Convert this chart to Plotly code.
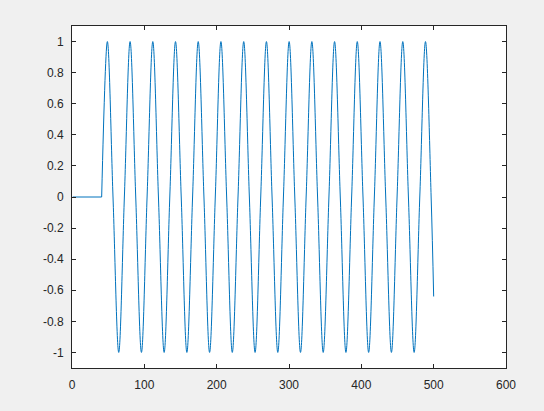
import plotly.graph_objects as go

# Flat (zero) part of the signal before it starts oscillating
flat_x = [1, 41]
flat_y = [0, 0]

# Key points of the oscillation (zero crossings, peaks, troughs)
wave_x = [41.0, 48.9, 56.7, 64.6, 72.4, 80.3, 88.1, 96.0, 103.8, 111.7,
          119.5, 127.4, 135.2, 143.1, 151.0, 158.8, 166.7, 174.5, 182.4, 190.2,
          198.1, 205.9, 213.8, 221.6, 229.5, 237.4, 245.2, 253.1, 260.9, 268.8,
          276.6, 284.5, 292.3, 300.2, 308.0, 315.9, 323.7, 331.6, 339.5, 347.3,
          355.2, 363.0, 370.9, 378.7, 386.6, 394.4, 402.3, 410.1, 418.0, 425.8,
          433.7, 441.6, 449.4, 457.3, 465.1, 473.0, 480.8, 488.7, 496.5, 500.0]
wave_y = [0, 1, 0, -1, 0, 1, 0, -1, 0, 1,
          0, -1, 0, 1, 0, -1, 0, 1, 0, -1,
          0, 1, 0, -1, 0, 1, 0, -1, 0, 1,
          0, -1, 0, 1, 0, -1, 0, 1, 0, -1,
          0, 1, 0, -1, 0, 1, 0, -1, 0, 1,
          0, -1, 0, 1, 0, -1, 0, 1, 0, -0.64]

x_ticks = [0, 100, 200, 300, 400, 500, 600]
y_ticks = [1, 0.8, 0.6, 0.4, 0.2, 0, -0.2, -0.4, -0.6, -0.8, -1]
y_tick_labels = ["1", "0.8", "0.6", "0.4", "0.2", "0", "-0.2", "-0.4", "-0.6", "-0.8", "-1"]

BLUE = "#0072BD"
AX = "#262626"

fig = go.Figure()
fig.add_trace(go.Scatter(x=flat_x, y=flat_y, mode="lines",
                         line=dict(color=BLUE, width=1), showlegend=False))
fig.add_trace(go.Scatter(x=wave_x, y=wave_y, mode="lines",
                         line=dict(color=BLUE, width=1, shape="spline", smoothing=1.0),
                         showlegend=False))

axis_common = dict(showgrid=False, zeroline=False, showline=True, linecolor=AX,
                   linewidth=1, mirror="ticks", ticks="inside", ticklen=4,
                   tickcolor=AX, tickwidth=1,
                   tickfont=dict(family="Liberation Sans, Arial", size=12, color=AX))

fig.update_xaxes(range=[0, 600], tickvals=x_ticks, ticktext=[str(v) for v in x_ticks],
                 ticklabelstandoff=6, **axis_common)
fig.update_yaxes(range=[-1.1, 1.1], tickvals=y_ticks, ticktext=y_tick_labels,
                 ticklabelstandoff=5, **axis_common)

fig.update_layout(width=544, height=411,
                  margin=dict(l=72, r=38, t=26, b=43),
                  paper_bgcolor="#F0F0F0", plot_bgcolor="white")

fig.write_html("out.html",
               config={"displayModeBar": False},
               post_script="document.body.style.margin='0';"
                           "document.body.style.background='#F0F0F0';"
                           "document.body.style.overflow='hidden';")
